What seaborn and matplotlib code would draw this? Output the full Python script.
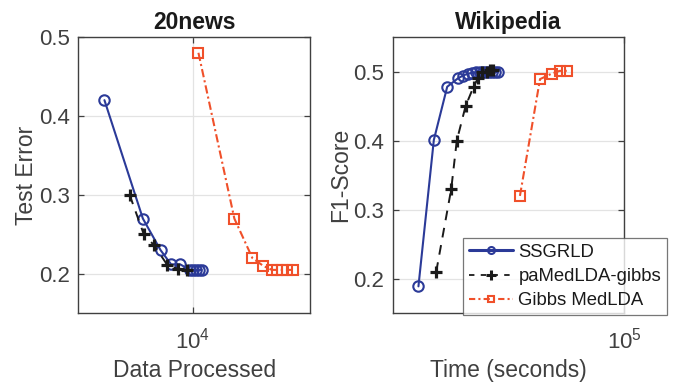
import matplotlib
matplotlib.use("Agg")
import matplotlib.pyplot as plt
import matplotlib.ticker as mticker
from matplotlib.lines import Line2D
import seaborn as sns
import pandas as pd

# 20news: test error vs. data processed
news_ssgrld_x = [4150, 6080, 7250, 8050, 8810, 9700, 10000, 10300, 10600, 10900]
news_ssgrld_y = [0.42, 0.27, 0.23, 0.212, 0.212, 0.205, 0.205, 0.205, 0.205, 0.205]
news_pamed_x = [5330, 6120, 6800, 7760, 8660, 9410]
news_pamed_y = [0.30, 0.251, 0.236, 0.211, 0.206, 0.205]
news_gibbs_x = [10560, 15090, 18050, 20130, 21900, 23000, 24200, 25500, 26900]
news_gibbs_y = [0.48, 0.27, 0.22, 0.21, 0.205, 0.205, 0.205, 0.205, 0.205]

# Wikipedia: F1-score vs. wall-clock time
wiki_ssgrld_x = [15190, 17490, 19770, 21780, 22800, 23880, 24900, 25800, 26600,
                 27400, 28200, 29000, 29700, 30500, 31400]
wiki_ssgrld_y = [0.189, 0.401, 0.478, 0.490, 0.494, 0.497, 0.498, 0.499, 0.499,
                 0.499, 0.499, 0.499, 0.499, 0.499, 0.499]
wiki_pamed_x = [17870, 20510, 21580, 23390, 25160, 26180, 27300, 28330, 29120, 29930]
wiki_pamed_y = [0.21, 0.33, 0.40, 0.45, 0.478, 0.49, 0.50, 0.50, 0.502, 0.502]
wiki_gibbs_x = [38470, 46230, 51470, 55380, 59210]
wiki_gibbs_y = [0.32, 0.489, 0.497, 0.501, 0.501]

method_names = ["SSGRLD", "paMedLDA-gibbs", "Gibbs MedLDA"]
titles = ["20news", "Wikipedia"]
x_labels = ["Data Processed", "Time (seconds)"]
y_labels = ["Test Error", "F1-Score"]
y_ticks = [0.2, 0.3, 0.4, 0.5]

sns.set_theme(style="white")
plt.rcParams["font.family"] = ["Liberation Sans", "DejaVu Sans"]
plt.rcParams["mathtext.fontset"] = "custom"
plt.rcParams["mathtext.rm"] = "Liberation Sans"
plt.rcParams["mathtext.it"] = "Liberation Sans:italic"
plt.rcParams["mathtext.bf"] = "Liberation Sans:bold"

text_col = "#404040"
blue = "#2B3A98"
orange = "#F0502A"

styles = [
    dict(color=blue, linestyle="-", marker="o", markersize=7.5, markerfacecolor="none",
         markeredgecolor=blue, markeredgewidth=1.5, linewidth=1.5),
    dict(color="#1a1a1a", linestyle=(0, (5, 4)), marker="", linewidth=1.4),
    dict(color=orange, linestyle=(0, (4, 1.5, 1, 1.5)), marker="s", markersize=6.5,
         markerfacecolor="none", markeredgecolor=orange, markeredgewidth=1.5,
         linewidth=1.5),
]

fig = plt.figure(figsize=(6.76, 3.87), dpi=100)
ax1 = fig.add_axes([0.1158, 0.1904, 0.3428, 0.7140])
ax2 = fig.add_axes([0.5809, 0.1904, 0.3426, 0.7140])

panels = [
    (ax1, [(news_ssgrld_x, news_ssgrld_y), (news_pamed_x, news_pamed_y),
           (news_gibbs_x, news_gibbs_y)], (3200, 32000), (0.15, 0.5)),
    (ax2, [(wiki_ssgrld_x, wiki_ssgrld_y), (wiki_pamed_x, wiki_pamed_y),
           (wiki_gibbs_x, wiki_gibbs_y)], (12000, 100000), (0.15, 0.55)),
]

for i, (ax, series, xlim, ylim) in enumerate(panels):
    for (xs, ys), name, st in zip(series, method_names, styles):
        df = pd.DataFrame({"x": xs, "y": ys})
        sns.lineplot(data=df, x="x", y="y", ax=ax, sort=False, estimator=None,
                     label=name, **st)
        if name == "paMedLDA-gibbs":
            # bold plus markers drawn on top of the dashed line
            ax.plot(xs, ys, linestyle="none", marker="+", markersize=8.5,
                    markeredgewidth=2.3, color="#1a1a1a")
    ax.set_xscale("log")
    ax.set_xlim(*xlim)
    ax.set_ylim(*ylim)
    ax.set_yticks(y_ticks)
    ax.yaxis.set_major_formatter(mticker.FormatStrFormatter("%.1f"))
    ax.xaxis.set_major_locator(mticker.LogLocator(base=10))
    ax.xaxis.set_minor_locator(mticker.NullLocator())
    ax.grid(True, color="#e3e3e3", linewidth=0.9)
    ax.set_axisbelow(True)
    ax.tick_params(direction="in", length=4, width=0.9, colors=text_col,
                   labelsize=16, top=True, right=True, bottom=True, left=True,
                   pad=6)
    ax.tick_params(axis="x", pad=10)
    for sp in ax.spines.values():
        sp.set_color(text_col)
        sp.set_linewidth(1.0)
    ax.set_title(titles[i], fontsize=16.5, fontweight="bold", color="#1a1a1a", pad=6)
    ax.set_xlabel(x_labels[i], fontsize=16.5, color=text_col, labelpad=4)
    ax.set_ylabel(y_labels[i], fontsize=16.5, color=text_col, labelpad=1)
    if ax.get_legend() is not None:
        ax.get_legend().remove()

# legend for the three methods
handles = [
    Line2D([], [], color=blue, linestyle="-", marker="o", markersize=5,
           markerfacecolor="none", markeredgewidth=1.5, linewidth=2.2),
    Line2D([], [], color="#1a1a1a", linestyle=(0, (3, 3.5)), marker="+", markersize=7,
           markeredgewidth=2.2, linewidth=1.3),
    Line2D([], [], color=orange, linestyle=(0, (3, 1.5, 1, 1.5)), marker="s",
           markersize=5, markerfacecolor="none", markeredgewidth=1.5, linewidth=1.5),
]
leg = ax2.legend(handles, method_names, loc="lower left",
                 bbox_to_anchor=(463 / 676, 1 - 315 / 387),
                 bbox_transform=fig.transFigure, fontsize=13.3, frameon=True,
                 fancybox=False, handlelength=2.4, handletextpad=0.3,
                 borderpad=0.3, labelspacing=0.4, borderaxespad=0)
leg.get_frame().set_edgecolor("#555555")
leg.get_frame().set_linewidth(0.9)
for t in leg.get_texts():
    t.set_color("#1a1a1a")

fig.savefig("out.png", dpi=100, facecolor="white")
